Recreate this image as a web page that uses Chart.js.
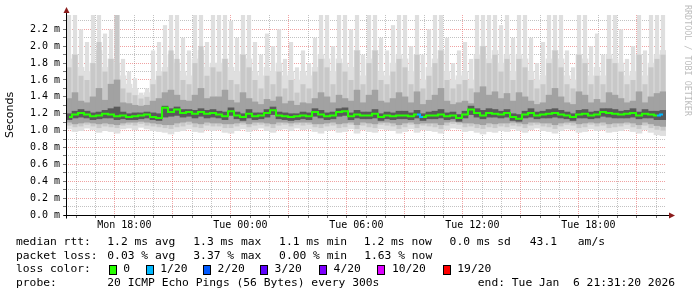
<!DOCTYPE html>
<html>
<head>
<meta charset="utf-8">
<script src="https://cdn.jsdelivr.net/npm/chart.js@4.4.1/dist/chart.umd.min.js"></script>
<style>
  body { margin: 0; background: #fff; }
  #wrap { position: relative; width: 697px; height: 297px; overflow: hidden; background: #fff; }
  #c { position: absolute; left: 0; top: 0; }
  .t { position: absolute; font-family: "DejaVu Sans Mono", monospace; font-size: 11.3px; line-height: 14px; color: #000; white-space: pre; }
  .sw { position: absolute; width: 8px; height: 10px; box-sizing: border-box; border: 1px solid #000; }
  #mark { position: absolute; left: 683px; top: 5px; writing-mode: vertical-rl; font-family: "DejaVu Sans Mono", monospace; font-size: 8.4px; color: #bdbdbd; white-space: pre; }
</style>
</head>
<body>
<div id="wrap">
  <canvas id="c" width="697" height="297"></canvas>
  <div id="mark">RRDTOOL / TOBI OETIKER</div>
  <div id="legend"></div>
</div>
<script>
// time slots (18 min each), Mon 15:30 -> Tue 21:12
const times = [
  'Mon 15:30','Mon 15:48','Mon 16:06','Mon 16:24','Mon 16:42','Mon 17:00','Mon 17:18','Mon 17:36','Mon 17:54','Mon 18:12',
  'Mon 18:30','Mon 18:48','Mon 19:06','Mon 19:24','Mon 19:42','Mon 20:00','Mon 20:18','Mon 20:36','Mon 20:54','Mon 21:12',
  'Mon 21:30','Mon 21:48','Mon 22:06','Mon 22:24','Mon 22:42','Mon 23:00','Mon 23:18','Mon 23:36','Mon 23:54','Tue 00:12',
  'Tue 00:30','Tue 00:48','Tue 01:06','Tue 01:24','Tue 01:42','Tue 02:00','Tue 02:18','Tue 02:36','Tue 02:54','Tue 03:12',
  'Tue 03:30','Tue 03:48','Tue 04:06','Tue 04:24','Tue 04:42','Tue 05:00','Tue 05:18','Tue 05:36','Tue 05:54','Tue 06:12',
  'Tue 06:30','Tue 06:48','Tue 07:06','Tue 07:24','Tue 07:42','Tue 08:00','Tue 08:18','Tue 08:36','Tue 08:54','Tue 09:12',
  'Tue 09:30','Tue 09:48','Tue 10:06','Tue 10:24','Tue 10:42','Tue 11:00','Tue 11:18','Tue 11:36','Tue 11:54','Tue 12:12',
  'Tue 12:30','Tue 12:48','Tue 13:06','Tue 13:24','Tue 13:42','Tue 14:00','Tue 14:18','Tue 14:36','Tue 14:54','Tue 15:12',
  'Tue 15:30','Tue 15:48','Tue 16:06','Tue 16:24','Tue 16:42','Tue 17:00','Tue 17:18','Tue 17:36','Tue 17:54','Tue 18:12',
  'Tue 18:30','Tue 18:48','Tue 19:06','Tue 19:24','Tue 19:42','Tue 20:00','Tue 20:18','Tue 20:36','Tue 20:54','Tue 21:12'
];

// smoke bands, ms
// thin light spikes (max of the 20 pings)
const outerHi = [
  2.37,2.37,2.20,2.05,2.37,2.37,2.15,2.20,2.37,1.85,1.70,1.62,1.45,1.50,1.95,2.05,2.25,2.37,2.37,2.10,1.95,2.37,2.37,2.05,2.37,
  2.37,2.37,2.30,2.10,2.37,2.37,2.05,1.90,2.15,2.00,2.20,1.85,2.05,1.75,1.95,1.80,2.10,2.37,2.37,2.00,2.37,2.37,2.20,2.37,1.90,
  2.37,2.37,2.10,1.95,2.25,2.37,2.37,2.00,2.37,1.90,2.20,2.37,2.37,2.10,1.80,1.95,2.05,1.85,2.37,2.37,2.37,2.37,2.25,2.37,2.10,
  2.37,2.37,2.10,1.80,2.05,2.37,2.37,2.37,1.95,1.75,2.37,2.37,2.00,2.15,1.90,2.37,2.37,2.20,1.85,2.00,2.37,1.95,2.37,2.37,2.37
];
// filled light area under the spikes
const baseHi = [
  1.85,1.90,1.75,1.70,1.80,1.95,1.75,1.85,1.80,1.65,1.55,1.50,1.42,1.45,1.60,1.70,1.75,1.90,1.80,1.70,1.65,1.85,1.95,1.75,1.80,
  1.80,1.85,1.75,1.70,1.90,1.85,1.70,1.65,1.75,1.70,1.80,1.65,1.70,1.60,1.70,1.65,1.75,1.90,1.85,1.70,1.85,1.80,1.75,1.95,1.65,
  1.85,1.95,1.70,1.65,1.80,1.90,1.85,1.70,1.90,1.60,1.75,1.85,1.95,1.70,1.60,1.65,1.70,1.60,1.90,2.00,1.85,1.95,1.80,1.90,1.70,
  1.90,1.85,1.70,1.60,1.65,1.85,1.95,1.85,1.65,1.60,1.90,1.85,1.65,1.75,1.65,1.90,1.85,1.80,1.65,1.70,1.90,1.65,1.80,1.90,1.95
];
const outerLo = [
  1.02,0.99,1.00,1.03,1.01,0.98,1.00,0.99,0.97,1.02,1.03,1.01,1.04,1.02,1.00,0.99,0.98,0.96,0.99,1.00,1.02,0.99,0.98,1.01,1.00,
  1.01,0.98,0.97,1.00,1.02,0.99,1.01,1.03,1.00,0.98,1.01,1.02,1.00,1.03,1.01,1.02,0.99,0.97,1.00,1.01,0.98,0.99,1.02,0.97,1.01,
  0.99,0.98,1.02,1.01,1.00,0.97,0.99,1.02,0.98,1.01,1.00,0.99,0.97,1.01,1.03,1.02,0.99,1.00,0.98,0.96,0.99,0.98,1.00,0.99,1.02,
  1.00,0.98,1.01,1.03,1.00,0.99,0.97,1.00,1.02,1.01,0.98,0.99,1.02,1.00,1.01,0.98,0.99,1.00,1.02,0.99,0.97,1.01,0.98,0.95,0.94
];
const midHi = [
  1.75,1.90,1.65,1.60,1.80,2.05,1.70,1.85,2.37,1.50,1.45,1.42,1.38,1.40,1.55,1.65,1.70,1.95,1.85,1.60,1.55,1.80,2.00,1.65,1.75,
  1.70,1.85,1.60,1.55,1.90,1.75,1.60,1.50,1.65,1.55,1.70,1.50,1.60,1.45,1.55,1.50,1.70,1.85,1.75,1.55,1.80,1.70,1.60,1.95,1.55,
  1.80,1.95,1.60,1.55,1.70,1.85,1.75,1.55,1.90,1.50,1.65,1.80,1.95,1.60,1.50,1.55,1.60,1.50,1.85,2.00,1.80,1.90,1.70,1.85,1.60,
  1.85,1.75,1.60,1.50,1.55,1.80,1.95,1.75,1.55,1.50,1.90,1.80,1.55,1.65,1.55,1.85,1.80,1.70,1.55,1.60,1.90,1.55,1.75,1.85,1.90
];
const midLo = [
  1.06,1.04,1.05,1.07,1.05,1.03,1.05,1.04,1.03,1.06,1.07,1.06,1.08,1.06,1.05,1.04,1.03,1.02,1.04,1.05,1.07,1.04,1.03,1.06,1.05,
  1.05,1.03,1.03,1.05,1.07,1.04,1.06,1.07,1.05,1.03,1.06,1.07,1.05,1.07,1.06,1.07,1.04,1.03,1.05,1.06,1.03,1.04,1.07,1.02,1.06,
  1.04,1.03,1.07,1.06,1.05,1.02,1.04,1.07,1.03,1.06,1.05,1.04,1.02,1.06,1.08,1.07,1.04,1.05,1.03,1.02,1.04,1.03,1.05,1.04,1.06,
  1.05,1.03,1.06,1.07,1.05,1.04,1.02,1.05,1.07,1.06,1.03,1.04,1.07,1.05,1.06,1.03,1.04,1.05,1.07,1.04,1.02,1.06,1.03,1.01,1.00
];
const innerHi = [
  1.38,1.45,1.35,1.33,1.40,1.50,1.36,1.55,1.60,1.33,1.32,1.30,1.29,1.30,1.35,1.38,1.45,1.48,1.42,1.36,1.35,1.42,1.50,1.38,1.40,
  1.40,1.48,1.36,1.33,1.45,1.38,1.34,1.31,1.37,1.35,1.40,1.32,1.35,1.30,1.33,1.32,1.38,1.45,1.40,1.33,1.42,1.38,1.35,1.48,1.33,
  1.42,1.48,1.35,1.33,1.38,1.45,1.40,1.33,1.46,1.31,1.36,1.42,1.50,1.35,1.31,1.33,1.35,1.32,1.45,1.52,1.42,1.46,1.38,1.44,1.35,
  1.45,1.40,1.35,1.31,1.33,1.42,1.50,1.40,1.33,1.31,1.46,1.42,1.33,1.37,1.33,1.45,1.42,1.38,1.33,1.35,1.46,1.33,1.40,1.44,1.46
];
const innerLo = [
  1.10,1.08,1.09,1.10,1.09,1.08,1.09,1.08,1.07,1.09,1.10,1.10,1.11,1.10,1.09,1.08,1.07,1.07,1.09,1.10,1.11,1.09,1.08,1.10,1.09,
  1.09,1.08,1.08,1.09,1.10,1.08,1.10,1.10,1.09,1.08,1.10,1.10,1.09,1.10,1.10,1.10,1.08,1.08,1.09,1.10,1.08,1.09,1.10,1.07,1.10,
  1.09,1.08,1.10,1.10,1.09,1.07,1.09,1.10,1.08,1.09,1.09,1.09,1.07,1.10,1.11,1.10,1.09,1.09,1.08,1.07,1.09,1.08,1.09,1.09,1.10,
  1.09,1.08,1.10,1.10,1.09,1.09,1.07,1.09,1.10,1.10,1.08,1.09,1.10,1.09,1.10,1.08,1.09,1.09,1.10,1.09,1.07,1.10,1.08,1.06,1.05
];
const coreHi = [
  1.20,1.23,1.25,1.23,1.21,1.22,1.24,1.26,1.28,1.22,1.20,1.21,1.21,1.22,1.21,1.20,1.29,1.26,1.28,1.25,1.25,1.24,1.26,1.24,1.25,
  1.23,1.22,1.27,1.22,1.20,1.25,1.21,1.21,1.25,1.28,1.22,1.21,1.20,1.20,1.22,1.21,1.26,1.24,1.21,1.22,1.26,1.27,1.21,1.24,1.22,
  1.22,1.25,1.20,1.22,1.21,1.23,1.23,1.21,1.24,1.20,1.22,1.23,1.25,1.21,1.22,1.19,1.23,1.29,1.26,1.24,1.26,1.25,1.23,1.25,1.20,
  1.19,1.23,1.26,1.22,1.23,1.25,1.26,1.24,1.22,1.20,1.24,1.25,1.22,1.23,1.26,1.26,1.25,1.23,1.24,1.26,1.22,1.25,1.23,1.23,1.24
];
const coreLo = [
  1.13,1.15,1.16,1.15,1.13,1.14,1.15,1.15,1.13,1.14,1.13,1.13,1.14,1.15,1.13,1.12,1.16,1.17,1.18,1.16,1.17,1.15,1.17,1.15,1.16,
  1.15,1.13,1.18,1.14,1.12,1.15,1.13,1.14,1.16,1.19,1.14,1.13,1.12,1.13,1.14,1.13,1.17,1.15,1.13,1.14,1.17,1.18,1.13,1.15,1.14,
  1.14,1.15,1.12,1.14,1.13,1.14,1.14,1.13,1.15,1.12,1.14,1.14,1.15,1.13,1.14,1.11,1.15,1.19,1.16,1.14,1.16,1.16,1.15,1.16,1.12,
  1.11,1.15,1.16,1.14,1.15,1.15,1.16,1.15,1.14,1.12,1.15,1.15,1.14,1.15,1.17,1.16,1.15,1.15,1.15,1.16,1.14,1.15,1.15,1.13,1.13
];
const median = [
  1.16,1.19,1.21,1.19,1.17,1.18,1.20,1.19,1.17,1.18,1.16,1.17,1.18,1.19,1.16,1.15,1.27,1.22,1.25,1.21,1.22,1.20,1.22,1.20,1.21,
  1.19,1.17,1.23,1.18,1.16,1.20,1.17,1.18,1.21,1.24,1.18,1.17,1.16,1.17,1.18,1.17,1.22,1.19,1.17,1.18,1.22,1.23,1.17,1.19,1.18,
  1.18,1.20,1.16,1.18,1.17,1.18,1.18,1.17,1.19,1.16,1.18,1.18,1.19,1.17,1.18,1.15,1.19,1.25,1.21,1.18,1.21,1.20,1.19,1.21,1.16,
  1.14,1.19,1.21,1.18,1.19,1.20,1.21,1.19,1.18,1.16,1.19,1.20,1.18,1.19,1.22,1.21,1.20,1.19,1.20,1.21,1.18,1.20,1.19,1.18,1.19
];
// slots with lost pings (all others 0/20)
const lossIndex = [59, 99];
const lossCount = [1, 1];

// loss colour legend
const lossLabels = ['0', '1/20', '2/20', '3/20', '4/20', '10/20', '19/20'];
const lossSteps = [0, 1, 2, 3, 4, 10, 19];
const lossColors = ['#26ff00', '#00b8ff', '#0059ff', '#5e00ff', '#7e00ff', '#dd00ff', '#ff0000'];

// axes
const yTickValues = [0.0,0.1,0.2,0.3,0.4,0.5,0.6,0.7,0.8,0.9,1.0,1.1,1.2,1.3,1.4,1.5,1.6,1.7,1.8,1.9,2.0,2.1,2.2,2.3];
const gridHours = [16,17,18,19,20,21,22,23,24,25,26,27,28,29,30,31,32,33,34,35,36,37,38,39,40,41,42,43,44,45];
const xTickHours = [18, 24, 30, 36, 42];
const xTickLabels = ['Mon 18:00', 'Tue 00:00', 'Tue 06:00', 'Tue 12:00', 'Tue 18:00'];

// legend text
const rttStats = ['1.2 ms avg', '1.3 ms max', '1.1 ms min', '1.2 ms now', '0.0 ms sd', '43.1', 'am/s'];
const lossStats = ['0.03 % avg', '3.37 % max', '0.00 % min', '1.63 % now'];
const probeText = '20 ICMP Echo Pings (56 Bytes) every 300s';
const endText = 'end: Tue Jan  6 21:31:20 2026';

const MAJOR = 'rgba(225,70,70,0.5)';
const MINOR = 'rgba(120,120,120,0.45)';

function lossAt(i) {
  const k = lossIndex.indexOf(i);
  return k < 0 ? 0 : lossCount[k];
}
function lossColor(n) {
  let c = lossColors[0];
  lossSteps.forEach((s, k) => { if (n >= s) c = lossColors[k]; });
  return c;
}
function band(lo, hi) {
  return lo.map((v, i) => [v, hi[i]]);
}
function smoke(label, lo, hi, color, order, width) {
  return {
    label, data: band(lo, hi), backgroundColor: color, borderWidth: 0,
    grouped: false, barPercentage: width || 1, categoryPercentage: 1, order
  };
}

// axis lines with little arrows, like rrdtool
const axesPlugin = {
  id: 'axes',
  afterDraw(chart) {
    const { ctx, chartArea } = chart;
    const x0 = chartArea.left + 0.5, y0 = chartArea.bottom + 0.5;
    ctx.save();
    ctx.strokeStyle = '#000';
    ctx.lineWidth = 1;
    ctx.beginPath();
    ctx.moveTo(x0 - 3, y0); ctx.lineTo(670, y0);
    ctx.moveTo(x0, y0 + 3); ctx.lineTo(x0, 11);
    ctx.stroke();
    ctx.fillStyle = '#8b1c1c';
    ctx.beginPath();
    ctx.moveTo(669, y0 - 3); ctx.lineTo(675, y0); ctx.lineTo(669, y0 + 3); ctx.closePath();
    ctx.fill();
    ctx.beginPath();
    ctx.moveTo(x0 - 3, 13); ctx.lineTo(x0, 7); ctx.lineTo(x0 + 3, 13); ctx.closePath();
    ctx.fill();
    ctx.restore();
  }
};

new Chart(document.getElementById('c'), {
  type: 'bar',
  data: {
    labels: times,
    datasets: [
      {
        type: 'line', label: 'median', data: median, order: 0,
        borderColor: lossColors[0], borderWidth: 2, pointRadius: 0, stepped: 'middle',
        segment: { borderColor: c => lossColor(lossAt(c.p1DataIndex)) }
      },
      smoke('core', coreLo, coreHi, '#5a5a5a', 1),
      smoke('inner', innerLo, innerHi, '#a2a2a2', 2),
      smoke('mid', midLo, midHi, '#c8c8c8', 3, 0.85),
      smoke('base', outerLo, baseHi, '#dfdfdf', 4),
      smoke('spikes', outerLo, outerHi, '#dfdfdf', 5, 0.7)
    ]
  },
  options: {
    responsive: false,
    animation: false,
    devicePixelRatio: 1,
    layout: { autoPadding: false, padding: { left: 0, right: 31, top: 15, bottom: 62 } },
    plugins: { legend: { display: false }, tooltip: { enabled: false } },
    scales: {
      x: { type: 'category', display: false, offset: true },
      xt: {
        type: 'linear', position: 'bottom', min: 15.5, max: 45.5, z: 1,
        afterBuildTicks: s => { s.ticks = gridHours.map(v => ({ value: v })); },
        afterFit: s => { s.height = 20; },
        ticks: {
          autoSkip: false, maxRotation: 0, padding: 1, color: '#000',
          font: { family: 'DejaVu Sans Mono', size: 10 },
          callback: v => { const k = xTickHours.indexOf(v); return k < 0 ? '' : xTickLabels[k]; }
        },
        grid: {
          color: c => (c.tick && c.tick.value % 3 === 0 ? MAJOR : MINOR),
          tickColor: '#777', tickLength: 3, lineWidth: 1
        },
        border: { display: false, dash: [1, 1] }
      },
      y: {
        min: 0, max: 2.37, z: 1,
        afterBuildTicks: s => { s.ticks = yTickValues.map(v => ({ value: v })); },
        afterFit: s => { s.width = 66; },
        ticks: {
          autoSkip: false, padding: 3, color: '#000',
          font: { family: 'DejaVu Sans Mono', size: 10 },
          callback: v => (Math.round(v * 10) % 2 === 0 ? v.toFixed(1) + ' m' : '')
        },
        grid: {
          color: c => (c.tick && Math.round(c.tick.value * 10) % 2 === 0 ? MAJOR : MINOR),
          tickColor: '#777', tickLength: 3, lineWidth: 1
        },
        border: { display: false, dash: [1, 1] },
        title: {
          display: true, text: 'Seconds', color: '#000',
          font: { family: 'DejaVu Sans', size: 11 }, padding: { top: 4, bottom: 4 }
        }
      }
    }
  },
  plugins: [axesPlugin]
});

// legend rows (html text)
const legend = document.getElementById('legend');
function put(x, yc, text) {
  const d = document.createElement('div');
  d.className = 't';
  d.style.left = x + 'px';
  d.style.top = (yc - 7) + 'px';
  d.textContent = text;
  legend.appendChild(d);
}
const rttX = [107.3, 193.3, 279.1, 363.8, 449.6, 529.8, 577.8];
const lossX = [107.3, 193.3, 279.1, 364.2];
put(16, 242, 'median rtt:');
rttStats.forEach((t, i) => put(rttX[i], 242, t));
put(16, 255.6, 'packet loss:');
lossStats.forEach((t, i) => put(lossX[i], 255.6, t));
put(16, 269.4, 'loss color:');
const swX = [108.7, 145.7, 203, 260, 319, 377.3, 442.7];
lossLabels.forEach((t, i) => {
  const s = document.createElement('div');
  s.className = 'sw';
  s.style.left = swX[i] + 'px';
  s.style.top = '264.5px';
  s.style.background = lossColors[i];
  legend.appendChild(s);
  put(swX[i] + 14.6, 269.4, t);
});
put(16, 283.2, 'probe:');
put(107.3, 283.2, probeText);
put(477.8, 283.2, endText);
</script>
</body>
</html>
